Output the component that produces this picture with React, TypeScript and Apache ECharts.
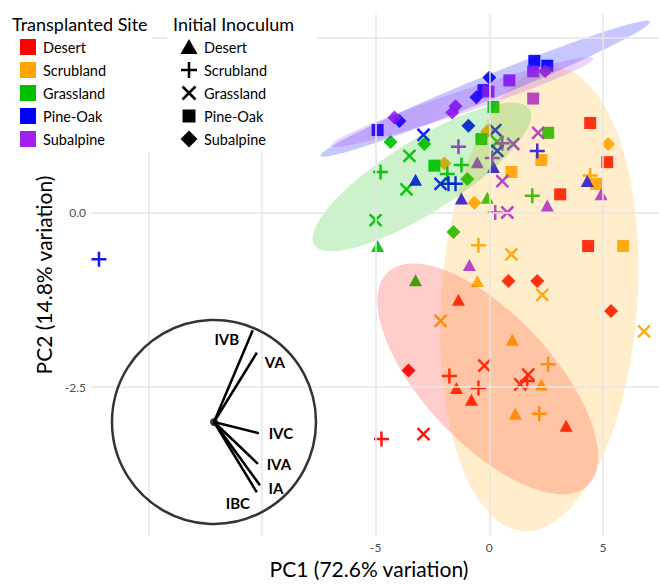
import React, { useEffect, useRef } from "react";
import * as echarts from "echarts";

const siteNames = ["Desert", "Scrubland", "Grassland", "Pine-Oak", "Subalpine"];
const inoculumNames = ["Desert", "Scrubland", "Grassland", "Pine-Oak", "Subalpine"];
const siteColors = ["#FF0000", "#FFA500", "#00C000", "#0000FF", "#A020F0"];

// [PC1, PC2, initial inoculum index]
const desertPoints = [
  [-1.36, -1.25, 0], [-1.45, -2.51, 0], [-0.79, -2.68, 0], [3.38, -3.05, 0],
  [-1.76, -2.34, 1], [-0.48, -2.51, 1], [1.67, -2.41, 1], [-4.75, -3.24, 1],
  [-0.22, -2.19, 2], [1.71, -2.32, 2], [1.36, -2.46, 2], [-2.9, -3.17, 2],
  [4.44, 1.28, 3], [5.19, 0.72, 3], [3.12, 0.26, 3], [4.35, -0.48, 3],
  [0.84, -0.98, 4], [2.11, -0.98, 4], [5.36, -1.41, 4], [-3.56, -2.26, 4],
];
const scrublandPoints = [
  [-0.53, -0.98, 0], [1.01, -1.82, 0], [2.29, -2.46, 0], [1.14, -2.88, 0],
  [4.44, 0.53, 1], [-0.48, -0.47, 1], [2.59, -2.17, 1], [2.2, -2.88, 1],
  [0.97, -0.6, 2], [2.33, -1.18, 2], [-2.15, -1.55, 2], [6.81, -1.7, 2],
  [2.29, 0.75, 3], [0.97, 0.58, 3], [4.7, 0.41, 3], [5.89, -0.48, 3],
  [-0.09, 1.16, 4], [-1.98, 0.7, 4], [-0.66, 0.14, 4], [5.23, 0.98, 4],
];
const grasslandPoints = [
  [-0.09, 0.21, 0], [-4.92, -0.48, 0], [-3.25, -0.97, 0],
  [-4.79, 0.58, 1], [-1.23, 0.68, 1], [-1.85, 0.55, 1], [1.89, 0.24, 1],
  [-3.52, 0.81, 2], [-3.65, 0.33, 2], [-5.01, -0.11, 2], [0.35, 1.01, 2],
  [0.18, 1.51, 3], [-0.35, 1.05, 3], [2.59, 1.14, 3], [-2.42, 0.67, 3],
  [-4.35, 1.01, 4], [-2.86, 0.98, 4], [-0.97, 0.48, 4], [-1.58, -0.28, 4],
];
const pineOakPoints = [
  [-3.25, 0.47, 0], [0.18, 0.65, 0], [-1.23, 0.2, 0], [4.31, 0.45, 0],
  [2.11, 0.88, 1], [-1.8, 0.41, 1], [-1.49, 0.41, 1], [-17.19, -0.67, 1],
  [-2.9, 1.11, 2], [0.26, 1.18, 2], [0.35, 0.88, 2], [-2.15, 0.41, 2],
  [1.98, 2.17, 3], [2.55, 2.1, 3], [-4.92, 1.18, 3], [-0.26, 1.75, 3],
  [0, 1.93, 4], [-3.96, 1.31, 4], [-0.57, 1.65, 4], [-0.92, 1.24, 4],
];
const subalpinePoints = [
  [-0.53, 0.72, 0], [2.55, 0.1, 0], [4.92, 0.26, 0], [-0.88, -0.75, 0],
  [-1.36, 0.94, 1], [0.13, 0.78, 1], [0.57, 0.99, 1], [0.26, 0, 1],
  [2.15, 1.14, 2], [1.05, 0.98, 2], [0.57, 0.45, 2], [0.79, 0, 2],
  [0.88, 1.89, 3], [1.93, 2.02, 3], [1.93, 1.63, 3], [-0.04, 1.73, 3],
  [2.46, 2.02, 4], [-4.18, 1.36, 4], [-1.49, 1.52, 4], [-1.63, 1.43, 4],
];
const sitePoints = [desertPoints, scrublandPoints, grasslandPoints, pineOakPoints, subalpinePoints];

// confidence ellipses: [centre PC1, centre PC2, axis-1 dPC1, axis-1 dPC2, axis-2 dPC1, axis-2 dPC2]
const desertEllipse = [-0.07, -2.38, 4.39, -1.53, -2.09, -0.62];
const scrublandEllipse = [2.2, -1.24, 0.7, 3.32, 4.31, -0.095];
const grasslandEllipse = [-2.97, 0.51, 4.74, 0.97, 0.85, -0.435];
const pineOakEllipse = [-0.18, 1.77, 7.25, 0.96, 0.2, -0.158];
const subalpineEllipse = [-1.21, 1.58, 5.78, 0.625, 0.154, -0.148];
const siteEllipses = [desertEllipse, scrublandEllipse, grasslandEllipse, pineOakEllipse, subalpineEllipse];

const xGridValues = [-15, -10, -5, 0, 5];
const xTickLabels = [-5, 0, 5];
const yGridValues = [-2.5, 0, 2.5];
const yTickLabels = [-2.5, 0];

// loadings (unit circle)
const loadingNames = ["IVB", "VA", "IVC", "IVA", "IA", "IBC"];
const loadingPC1 = [0.38, 0.42, 0.44, 0.43, 0.45, 0.42];
const loadingPC2 = [0.9, 0.68, -0.11, -0.41, -0.62, -0.69];

const FONT = "Lato, 'Open Sans', sans-serif";

const symbolShapes = [
  "triangle",
  "path://M0,5L10,5M5,0L5,10",
  "path://M0,0L10,10M10,0L0,10",
  "rect",
  "diamond",
];
const symbolSizes: any[] = [[13, 12], 15, 12, 12, 14];
const labelOffsets = [[-26, 9], [18, 9], [22, 0], [21, 0], [16, 3], [-19, 11]];

export default function App() {
  const ref = useRef<HTMLDivElement>(null);
  useEffect(() => {
    if (!ref.current) return;
    const chart = echarts.init(ref.current, null, { renderer: "svg" });

    const series: any[] = [];
    // gridlines
    series.push({
      type: "scatter",
      data: [],
      z: 0,
      silent: true,
      markLine: {
        silent: true,
        symbol: ["none", "none"],
        label: { show: false },
        lineStyle: { color: "#e6e6e6", width: 1.5, type: "solid" },
        data: [
          ...xGridValues.map((v) => ({ xAxis: v })),
          ...yGridValues.map((v) => ({ yAxis: v })),
        ],
      },
    });

    siteNames.forEach((site, s) => {
      inoculumNames.forEach((inoc, i) => {
        const isLine = i === 1 || i === 2;
        series.push({
          type: "scatter",
          name: site + " / " + inoc,
          data: sitePoints[s].filter((p) => p[2] === i).map((p) => [p[0], p[1]]),
          symbol: symbolShapes[i],
          symbolSize: symbolSizes[i],
          z: 2,
          itemStyle: isLine
            ? { color: siteColors[s], borderColor: siteColors[s], borderWidth: 2.5, opacity: 0.92 }
            : { color: siteColors[s], opacity: 0.92 },
        });
      });
    });

    siteNames.forEach((site, s) => {
      series.push({
        type: "custom",
        name: site + " ellipse",
        data: [siteEllipses[s]],
        encode: { x: 0, y: 1 },
        z: 3,
        silent: true,
        renderItem: (params: any, api: any) => {
          const cx = api.value(0), cy = api.value(1);
          const ux = api.value(2), uy = api.value(3);
          const vx = api.value(4), vy = api.value(5);
          const pts: number[][] = [];
          for (let k = 0; k < 90; k++) {
            const t = (2 * Math.PI * k) / 90;
            pts.push(api.coord([cx + ux * Math.cos(t) + vx * Math.sin(t), cy + uy * Math.cos(t) + vy * Math.sin(t)]));
          }
          return {
            type: "polygon",
            shape: { points: pts },
            style: { fill: siteColors[s], opacity: s === 3 ? 0.22 : 0.2 },
          };
        },
      });
    });

    // inset biplot
    series.push({
      type: "scatter",
      xAxisIndex: 1,
      yAxisIndex: 1,
      data: [[0, 0]],
      symbol: "circle",
      symbolSize: 204,
      z: 5,
      silent: true,
      itemStyle: { color: "rgba(0,0,0,0)", borderColor: "#000", borderWidth: 2.5 },
    });
    loadingNames.forEach((name, k) => {
      series.push({
        type: "line",
        name,
        xAxisIndex: 1,
        yAxisIndex: 1,
        data: [[0, 0], [loadingPC1[k], loadingPC2[k]]],
        showSymbol: false,
        symbol: "none",
        z: 5,
        silent: true,
        lineStyle: { color: "#000", width: 2.5 },
        endLabel: {
          show: true,
          formatter: () => name,
          color: "#000",
          fontSize: 15,
          fontFamily: FONT,
          fontWeight: "bold",
          align: "center",
          verticalAlign: "middle",
          distance: 0,
          offset: labelOffsets[k],
        },
      });
    });
    series.push({
      type: "scatter",
      xAxisIndex: 1,
      yAxisIndex: 1,
      data: [[0, 0]],
      symbolSize: 8,
      z: 6,
      silent: true,
      itemStyle: { color: "#000" },
    });

    // legend drawn with graphic
    const g: any[] = [];
    g.push({ type: "rect", shape: { x: 0, y: 0, width: 152, height: 152 }, style: { fill: "#fff" }, z: 100 });
    g.push({ type: "rect", shape: { x: 167, y: 0, width: 150, height: 152 }, style: { fill: "#fff" }, z: 100 });
    const itemY = [47, 70, 93, 116, 139];
    g.push({
      type: "text", x: 12, y: 24, z: 101,
      style: { text: "Transplanted Site", fontSize: 18, fontFamily: FONT, fill: "#000", verticalAlign: "middle" },
    });
    g.push({
      type: "text", x: 173, y: 24, z: 101,
      style: { text: "Initial Inoculum", fontSize: 18, fontFamily: FONT, fill: "#000", verticalAlign: "middle" },
    });
    siteNames.forEach((name, s) => {
      const y = itemY[s];
      g.push({ type: "rect", shape: { x: 20, y: y - 8, width: 16, height: 16 }, style: { fill: siteColors[s] }, z: 101 });
      g.push({
        type: "text", x: 43, y, z: 101,
        style: { text: name, fontSize: 14.5, fontFamily: FONT, fill: "#000", verticalAlign: "middle" },
      });
    });
    const cx = 189;
    inoculumNames.forEach((name, i) => {
      const y = itemY[i];
      if (i === 0) {
        g.push({ type: "polygon", shape: { points: [[cx, y - 8], [cx + 8.5, y + 7], [cx - 8.5, y + 7]] }, style: { fill: "#000" }, z: 101 });
      } else if (i === 1) {
        g.push({ type: "line", shape: { x1: cx - 8, y1: y, x2: cx + 8, y2: y }, style: { stroke: "#000", lineWidth: 2.5 }, z: 101 });
        g.push({ type: "line", shape: { x1: cx, y1: y - 8, x2: cx, y2: y + 8 }, style: { stroke: "#000", lineWidth: 2.5 }, z: 101 });
      } else if (i === 2) {
        g.push({ type: "line", shape: { x1: cx - 6.5, y1: y - 6.5, x2: cx + 6.5, y2: y + 6.5 }, style: { stroke: "#000", lineWidth: 2.5 }, z: 101 });
        g.push({ type: "line", shape: { x1: cx + 6.5, y1: y - 6.5, x2: cx - 6.5, y2: y + 6.5 }, style: { stroke: "#000", lineWidth: 2.5 }, z: 101 });
      } else if (i === 3) {
        g.push({ type: "rect", shape: { x: cx - 6.5, y: y - 6.5, width: 13, height: 13 }, style: { fill: "#000" }, z: 101 });
      } else {
        g.push({ type: "polygon", shape: { points: [[cx, y - 8.5], [cx + 8.5, y], [cx, y + 8.5], [cx - 8.5, y]] }, style: { fill: "#000" }, z: 101 });
      }
      g.push({
        type: "text", x: 204, y, z: 101,
        style: { text: name, fontSize: 14.5, fontFamily: FONT, fill: "#000", verticalAlign: "middle" },
      });
    });

    chart.setOption({
      animation: false,
      backgroundColor: "#fff",
      textStyle: { fontFamily: FONT },
      grid: [
        { left: 91, right: 0, top: 14, bottom: 44 },
        { left: 112, top: 320, width: 204, height: 204 },
      ],
      xAxis: [
        {
          type: "value",
          gridIndex: 0,
          min: -17.54,
          max: 7.47,
          name: "PC1 (72.6% variation)",
          nameLocation: "middle",
          nameGap: 21,
          nameTextStyle: { fontSize: 21, color: "#000", fontFamily: FONT, padding: [0, 12, 0, 0] },
          axisLine: { show: false },
          axisTick: { show: false },
          splitLine: { show: false },
          axisLabel: {
            customValues: xTickLabels,
            margin: 5,
            fontSize: 12,
            color: "#4d4d4d",
            formatter: (v: number) => String(v),
          },
        },
        { type: "value", gridIndex: 1, min: -1, max: 1, show: false },
      ],
      yAxis: [
        {
          type: "value",
          gridIndex: 0,
          min: -4.63,
          max: 2.84,
          name: "PC2 (14.8% variation)",
          nameLocation: "middle",
          nameGap: 37,
          nameTextStyle: { fontSize: 21, color: "#000", fontFamily: FONT },
          axisLine: { show: false },
          axisTick: { show: false },
          splitLine: { show: false },
          axisLabel: {
            customValues: yTickLabels,
            margin: 5,
            fontSize: 12,
            color: "#4d4d4d",
            formatter: (v: number) => v.toFixed(1),
          },
        },
        { type: "value", gridIndex: 1, min: -1, max: 1, show: false },
      ],
      series,
      graphic: g,
    });
    return () => chart.dispose();
  }, []);
  return (
    <div
      ref={ref}
      style={{ position: "absolute", left: 0, top: 0, width: 659, height: 584 }}
    />
  );
}
